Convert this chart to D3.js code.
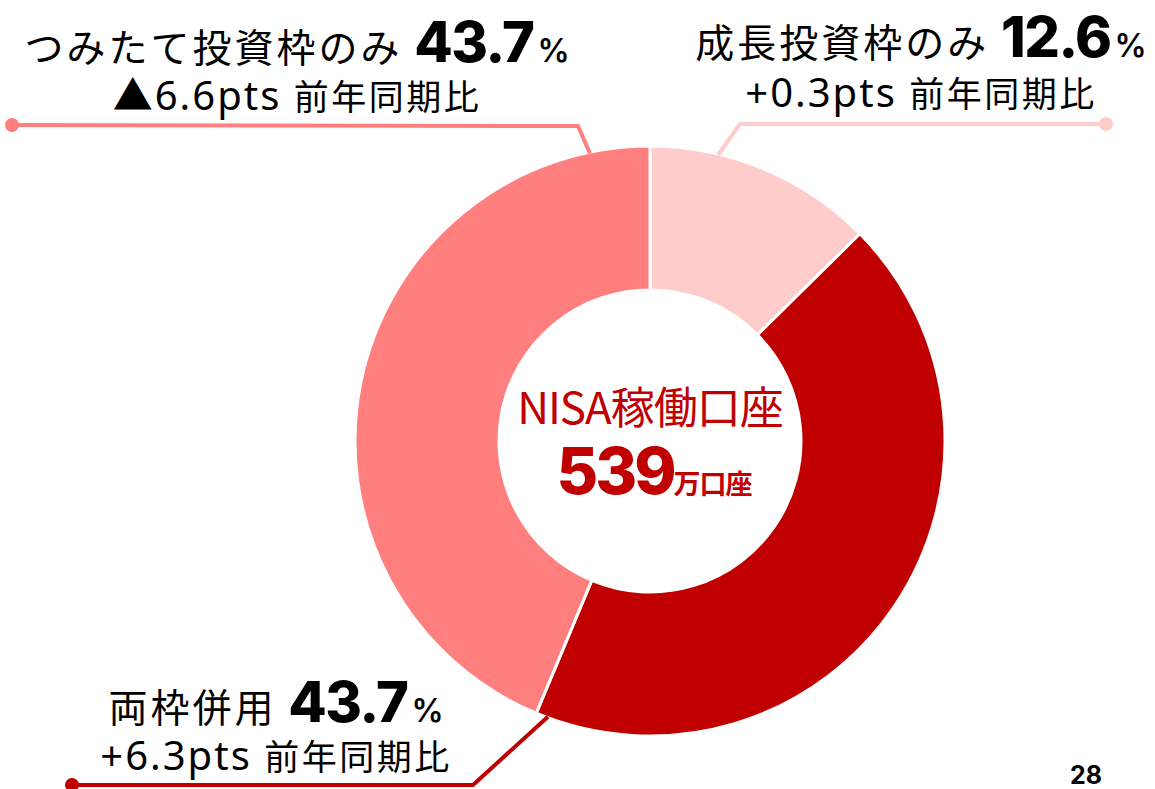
<!DOCTYPE html>
<html><head><meta charset="utf-8">
<script src="https://cdn.jsdelivr.net/npm/d3@7"></script>
<style>
html,body{margin:0;padding:0;background:#fff;}
svg{display:block;}
</style></head>
<body>
<svg id="chart" width="1155" height="789"></svg>
<script>
// ---- data ----
const categories = ["成長投資枠のみ", "両枠併用", "つみたて投資枠のみ"];
const shares = [12.6, 43.7, 43.7];
const changes = ["+0.3pts", "+6.3pts", "▲6.6pts"];
const changeSuffix = "前年同期比";
const centerTitle = "NISA稼働口座";
const centerValue = "539";
const centerUnit = "万口座";
const pageNumber = "28";

// ---- layout / style ----
const W = 1155, H = 789;
const cx = 650, cy = 441, outerR = 295, innerR = 151;
const sliceColors = ["#FFCCCC", "#C00000", "#FF7F7F"];
const cjk = "'Noto Sans CJK JP', 'Noto Sans', sans-serif";
const latin = "'Noto Sans', 'Noto Sans CJK JP', sans-serif";
const numFont = "Inter, 'Noto Sans', sans-serif";

// label layout per category: anchor fraction within slice, elbow, dot, text center
const labelLayout = [
  {frac: 0.295, elbow: [740, 124], dot: [1106, 124], tx: 921, y1: 57, y2: 107},
  {frac: 0.985, elbow: [473, 785], dot: [72, 785], tx: 276, y1: 722, y2: 770},
  {frac: 0.925, elbow: [578, 126], dot: [12, 125], tx: 297, y1: 62, y2: 110}
];

const svg = d3.select("#chart");
const color = d3.scaleOrdinal().domain(categories).range(sliceColors);

const data = categories.map((c, i) => ({cat: c, value: shares[i], change: changes[i]}));
const pie = d3.pie().sort(null).value(d => d.value);
const arcs = pie(data);
const arc = d3.arc().innerRadius(innerR).outerRadius(outerR);

const g = svg.append("g").attr("transform", `translate(${cx},${cy})`);
g.selectAll("path.slice").data(arcs).join("path")
  .attr("class", "slice")
  .attr("d", arc)
  .attr("fill", d => color(d.data.cat))
  .attr("stroke", "#fff")
  .attr("stroke-width", 3);

// leader lines
arcs.forEach((a, i) => {
  const L = labelLayout[i];
  const ang = a.startAngle + L.frac * (a.endAngle - a.startAngle);
  const ax = cx + (outerR - 1) * Math.sin(ang);
  const ay = cy - (outerR - 1) * Math.cos(ang);
  const col = color(a.data.cat);
  svg.append("path")
    .attr("d", d3.line()([[ax, ay], L.elbow, L.dot]))
    .attr("fill", "none").attr("stroke", col).attr("stroke-width", 4)
    .attr("stroke-linejoin", "miter");
  svg.append("circle").attr("cx", L.dot[0]).attr("cy", L.dot[1]).attr("r", 7).attr("fill", col);

  const t1 = svg.append("text").attr("x", L.tx).attr("y", L.y1)
    .attr("text-anchor", "middle").attr("fill", "#000");
  t1.append("tspan").attr("font-family", cjk).attr("font-size", 39).attr("letter-spacing", 3)
    .text(a.data.cat + " ");
  t1.append("tspan").attr("font-family", numFont).attr("font-weight", 800).attr("font-size", 56)
    .attr("letter-spacing", -1.5).text(d3.format(".1f")(a.data.value));
  t1.append("tspan").attr("font-family", numFont).attr("font-weight", 600).attr("font-size", 32)
    .attr("dx", 4).text("%");

  const t2 = svg.append("text").attr("x", L.tx).attr("y", L.y2)
    .attr("text-anchor", "middle").attr("fill", "#000");
  t2.append("tspan").attr("font-family", latin).attr("font-size", 40).attr("letter-spacing", 2)
    .text(a.data.change + " ");
  t2.append("tspan").attr("font-family", cjk).attr("font-size", 35).attr("letter-spacing", 2.5).text(changeSuffix);
});

// center text
svg.append("text").attr("x", cx).attr("y", 424).attr("text-anchor", "middle")
  .attr("fill", "#C00000").attr("font-family", cjk).attr("font-size", 44).attr("letter-spacing", -1)
  .text(centerTitle);
const ct = svg.append("text").attr("x", cx + 4).attr("y", 494).attr("text-anchor", "middle")
  .attr("fill", "#C00000");
ct.append("tspan").attr("font-family", numFont).attr("font-weight", 800).attr("font-size", 64)
  .attr("letter-spacing", -3).text(centerValue);
ct.append("tspan").attr("font-family", cjk).attr("font-weight", 700).attr("font-size", 27)
  .attr("letter-spacing", -1).text(centerUnit);

// page number
svg.append("text").attr("x", 1086).attr("y", 784).attr("text-anchor", "middle")
  .attr("font-family", numFont).attr("font-weight", 700).attr("font-size", 25).attr("fill", "#000")
  .text(pageNumber);
</script>
</body></html>
